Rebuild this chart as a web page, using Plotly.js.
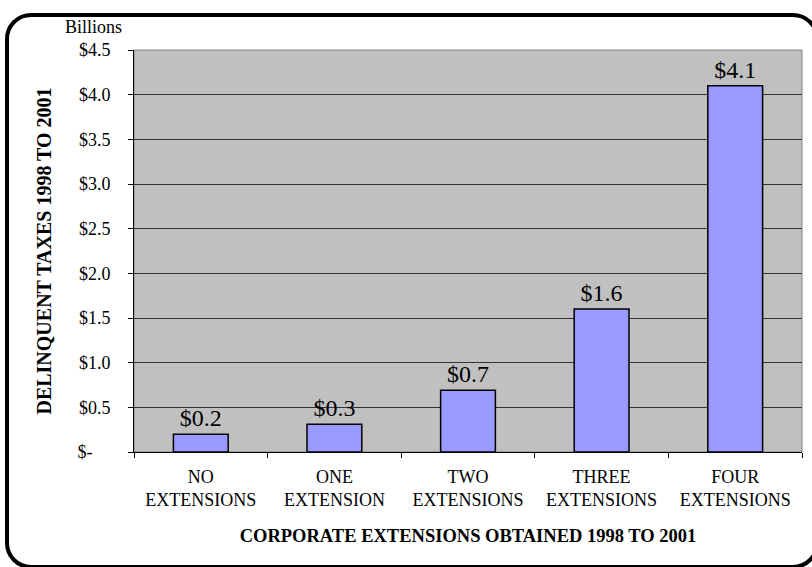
<!DOCTYPE html>
<html>
<head>
<meta charset="utf-8">
<script src="https://cdn.plot.ly/plotly-3.0.1.min.js"></script>
<style>
html,body{margin:0;padding:0;background:#fff;}
#wrap{position:relative;width:812px;height:567px;overflow:hidden;}
#frame{position:absolute;left:5px;top:13px;width:806px;height:548px;border:4px solid #000;border-radius:26px;box-sizing:content-box;}
#chart{position:absolute;left:0;top:0;width:812px;height:567px;}
</style>
</head>
<body>
<div id="wrap">
<div id="frame"></div>
<div id="chart"></div>
</div>
<script>
var categories = ["NO<br>EXTENSIONS","ONE<br>EXTENSION","TWO<br>EXTENSIONS","THREE<br>EXTENSIONS","FOUR<br>EXTENSIONS"];
var values = [0.2, 0.31, 0.69, 1.6, 4.1];
var labels = ["$0.2","$0.3","$0.7","$1.6","$4.1"];
var yTickVals = [0,0.5,1.0,1.5,2.0,2.5,3.0,3.5,4.0,4.5];
var yTickText = ["$-\u00A0\u00A0\u00A0\u00A0","$0.5","$1.0","$1.5","$2.0","$2.5","$3.0","$3.5","$4.0","$4.5"];

var serif = "Liberation Serif, Times New Roman, serif";

var trace = {
  type: "bar",
  x: categories,
  y: values,
  text: labels,
  textposition: "outside",
  textfont: {family: serif, size: 24, color: "#000"},
  cliponaxis: false,
  marker: {color: "#9999FF", line: {color: "#000", width: 1.5}},
  hoverinfo: "none"
};

var layout = {
  width: 812, height: 567,
  margin: {l: 134, r: 10, t: 50, b: 115},
  paper_bgcolor: "rgba(0,0,0,0)",
  plot_bgcolor: "#C0C0C0",
  bargap: 0.59,
  showlegend: false,
  font: {family: serif, color: "#000", size: 18},
  xaxis: {
    type: "category",
    ticks: "outside", tickson: "boundaries", ticklen: 5, tickcolor: "#000",
    ticklabelstandoff: 8,
    showline: true, linecolor: "#000", linewidth: 1,
    showgrid: false,
    tickfont: {family: serif, size: 18, color: "#000"},
    title: {text: "<b>CORPORATE EXTENSIONS OBTAINED 1998 TO 2001</b>", font: {family: serif, size: 18.5, color: "#000"}, standoff: 20}
  },
  yaxis: {
    range: [0, 4.5],
    tickvals: yTickVals, ticktext: yTickText,
    ticks: "outside", ticklen: 5, tickcolor: "#000",
    ticklabelstandoff: 14,
    showline: true, linecolor: "#000", linewidth: 1,
    showgrid: true, gridcolor: "#333", gridwidth: 1,
    zeroline: false,
    tickfont: {family: serif, size: 18, color: "#000"},
    title: {text: "<b>DELINQUENT TAXES 1998 TO 2001</b>", font: {family: serif, size: 20, color: "#000"}, standoff: 20}
  },
  shapes: [{
    type: "rect", xref: "paper", yref: "paper", x0: 0, x1: 1, y0: 0, y1: 1,
    line: {color: "#808080", width: 1}, layer: "below"
  }],
  annotations: [{
    text: "Billions", xref: "paper", yref: "paper", x: -0.061, y: 1,
    xanchor: "center", yanchor: "bottom", yshift: 11, showarrow: false,
    font: {family: serif, size: 18, color: "#000"}
  }]
};

Plotly.newPlot("chart", [trace], layout, {displayModeBar: false, staticPlot: true});
</script>
</body>
</html>
